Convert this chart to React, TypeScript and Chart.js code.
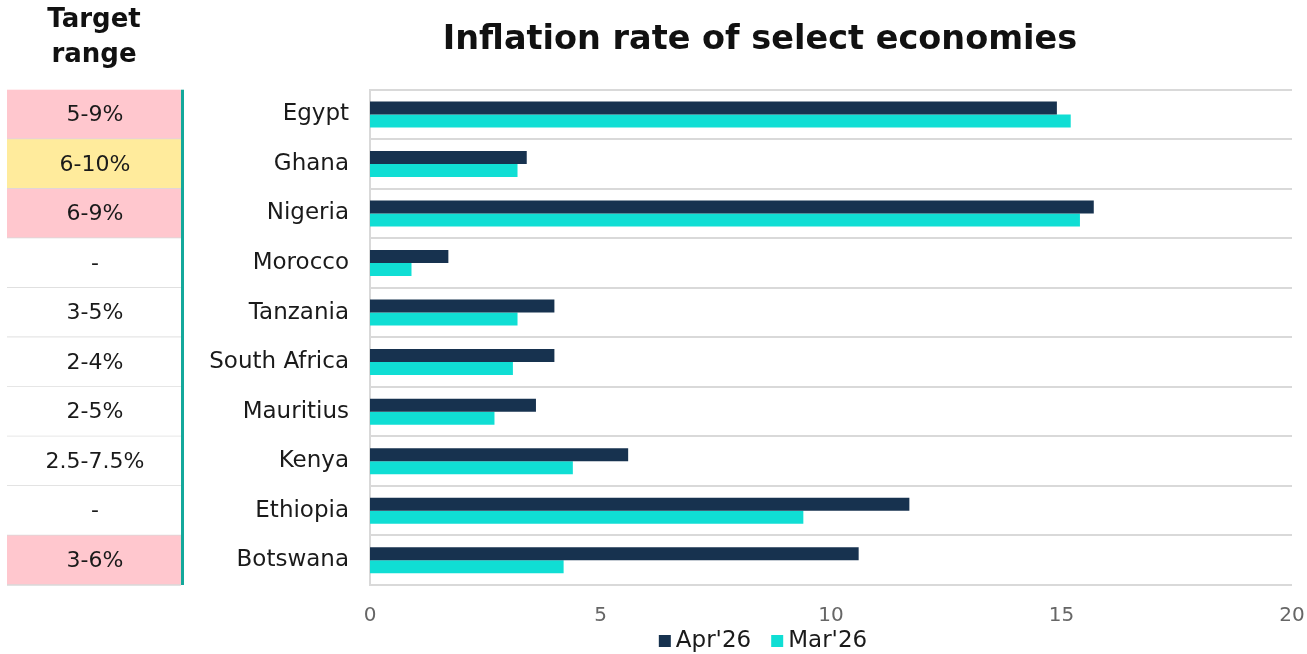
import React, { useEffect, useRef } from "react";
import { Chart, registerables } from "chart.js";

Chart.register(...registerables);

const categories = ["Egypt", "Ghana", "Nigeria", "Morocco", "Tanzania", "South Africa", "Mauritius", "Kenya", "Ethiopia", "Botswana"];
const apr26 = [14.9, 3.4, 15.7, 1.7, 4.0, 4.0, 3.6, 5.6, 11.7, 10.6];
const mar26 = [15.2, 3.2, 15.4, 0.9, 3.2, 3.1, 2.7, 4.4, 9.4, 4.2];
const targetRanges = ["5-9%", "6-10%", "6-9%", "-", "3-5%", "2-4%", "2-5%", "2.5-7.5%", "-", "3-6%"];
const targetStatus = ["red", "amber", "red", "none", "none", "none", "none", "none", "none", "red"];
const xTicks = [0, 5, 10, 15, 20];

const FONT = "'DejaVu Sans', sans-serif";

const tablePlugin = {
  id: "targetTable",
  afterLayout(chart: any) {
    // widen the clip box of the category labels so long names are not cut
    chart.scales.y.left = 150;
  },
  afterDraw(chart: any) {
    const ctx = chart.ctx;
    const y = chart.scales.y;
    const area = chart.chartArea;
    const n = categories.length;
    const h = (area.bottom - area.top) / n;
    const x0 = 7;
    const x1 = 181;
    ctx.save();
    ctx.fillStyle = "#111111";
    ctx.font = `bold 26px ${FONT}`;
    ctx.textAlign = "center";
    ctx.textBaseline = "middle";
    ctx.fillText("Target", (x0 + x1) / 2, 20);
    ctx.fillText("range", (x0 + x1) / 2, 55);
    for (let i = 0; i < n; i++) {
      const cy = y.getPixelForValue(i);
      const top = cy - h / 2;
      const st = targetStatus[i];
      if (st === "red") ctx.fillStyle = "#ffc7ce";
      else if (st === "amber") ctx.fillStyle = "#ffeb9c";
      else ctx.fillStyle = "#ffffff";
      ctx.fillRect(x0, top, x1 - x0, h);
      ctx.strokeStyle = "#d9d9d9";
      ctx.lineWidth = 1.5;
      ctx.beginPath();
      ctx.moveTo(x0, top + h);
      ctx.lineTo(x1, top + h);
      ctx.stroke();
      ctx.fillStyle = "#1a1a1a";
      ctx.font = `22px ${FONT}`;
      ctx.fillText(targetRanges[i], (x0 + x1) / 2 + 1, cy + 1);
    }
    ctx.fillStyle = "#14a89b";
    ctx.fillRect(181, area.top, 3, area.bottom - area.top);

    // legend
    const ds = chart.data.datasets;
    ctx.font = `23px ${FONT}`;
    ctx.textAlign = "left";
    const box = 12;
    const gapBoxText = 5;
    const gapItems = 20;
    const widths = ds.map((d: any) => ctx.measureText(d.label).width);
    let total = 0;
    widths.forEach((w: number, i: number) => {
      total += box + gapBoxText + w + (i < widths.length - 1 ? gapItems : 0);
    });
    let x = 763 - total / 2;
    const ly = 641;
    ds.forEach((d: any, i: number) => {
      ctx.fillStyle = d.backgroundColor;
      ctx.fillRect(x, ly - box / 2, box, box);
      x += box + gapBoxText;
      ctx.fillStyle = "#1a1a1a";
      ctx.fillText(d.label, x, ly);
      x += widths[i] + gapItems;
    });
    ctx.restore();
  },
};

export default function App() {
  const ref = useRef<HTMLCanvasElement>(null);
  useEffect(() => {
    const chart = new Chart(ref.current!, {
      type: "bar",
      data: {
        labels: categories,
        datasets: [
          { label: "Apr'26", data: apr26, backgroundColor: "#17324f", borderWidth: 0 },
          { label: "Mar'26", data: mar26, backgroundColor: "#10ded4", borderWidth: 0 },
        ],
      },
      options: {
        indexAxis: "y",
        animation: false,
        responsive: false,
        maintainAspectRatio: false,
        layout: { padding: { left: 216, right: 3, top: 0, bottom: 31 } },
        datasets: { bar: { categoryPercentage: 0.525, barPercentage: 1 } },
        scales: {
          x: {
            min: 0,
            max: 20,
            afterBuildTicks: (scale: any) => {
              scale.ticks = xTicks.map((v) => ({ value: v }));
            },
            afterFit: (scale: any) => {
              scale.height = 38;
              scale.paddingRight = 15;
              scale.paddingLeft = 6;
            },
            grid: { display: false, drawTicks: false },
            border: { display: false },
            ticks: { color: "#666666", font: { family: FONT, size: 20 }, padding: 19 },
          },
          y: {
            afterFit: (scale: any) => {
              scale.width = 154;
            },
            grid: { offset: true, color: "#d9d9d9", lineWidth: 2, drawTicks: false },
            border: { display: true, color: "#d9d9d9", width: 2 },
            ticks: { color: "#1a1a1a", font: { family: FONT, size: 23 }, padding: 21 },
          },
        },
        plugins: {
          title: {
            display: true,
            text: "Inflation rate of select economies",
            color: "#111111",
            font: { family: FONT, size: 33.5, weight: "bold" },
            padding: { top: 20, bottom: 29.5 },
          },
          legend: { display: false },
          tooltip: { enabled: false },
        },
      },
      plugins: [tablePlugin],
    });
    return () => chart.destroy();
  }, []);
  return (
    <div style={{ position: "fixed", left: 0, top: 0, width: 1307, height: 654, background: "#fff" }}>
      <canvas ref={ref} width={1307} height={654} style={{ width: 1307, height: 654 }} />
    </div>
  );
}
